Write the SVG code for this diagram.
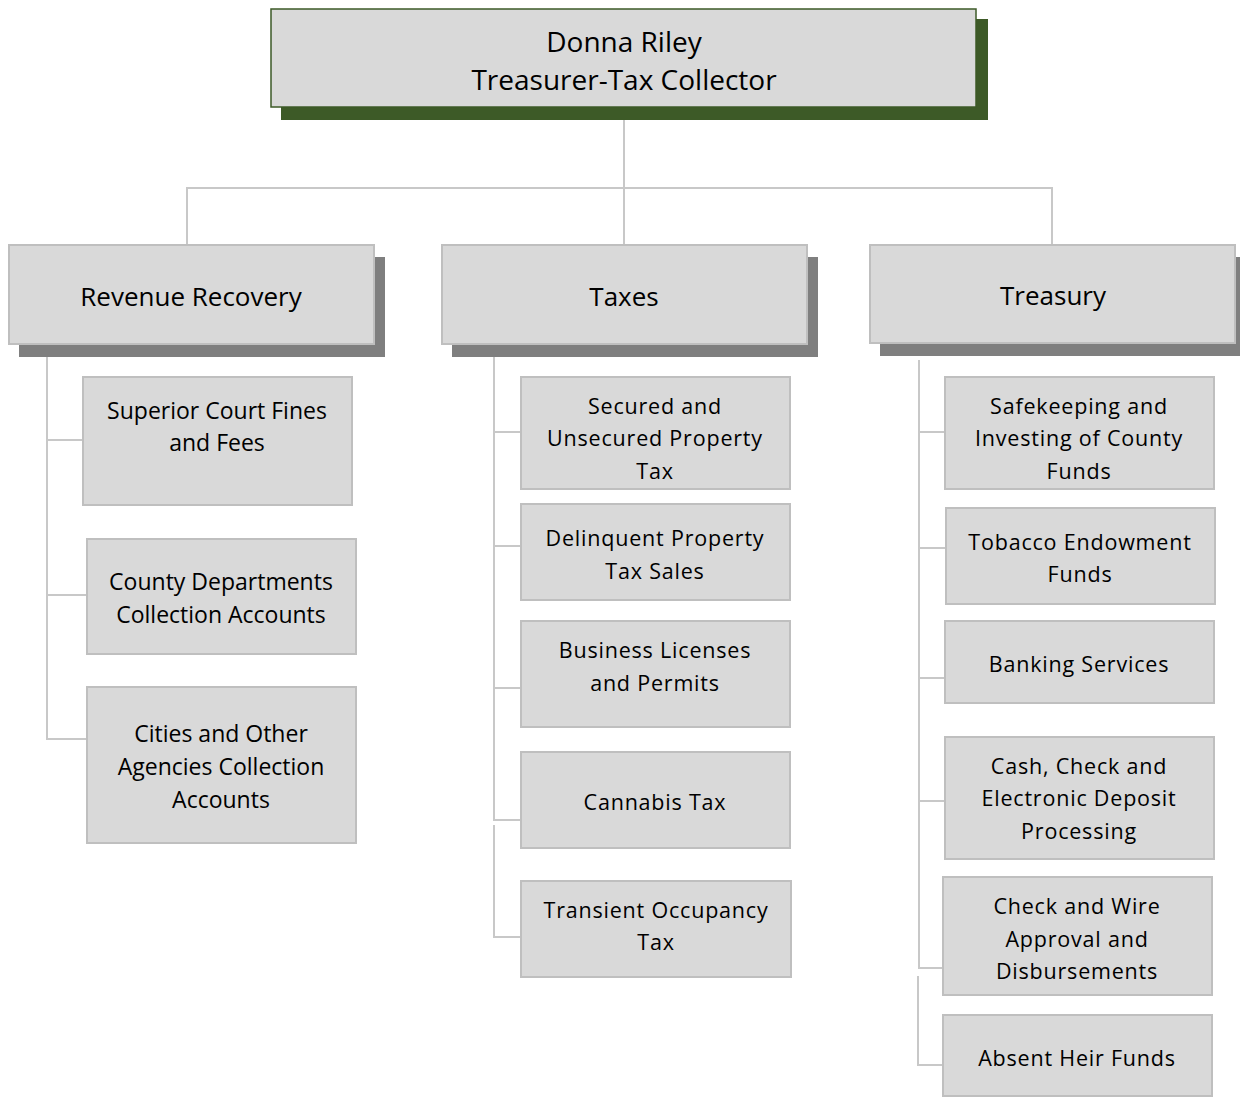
<svg xmlns="http://www.w3.org/2000/svg" width="1240" height="1097" viewBox="0 0 1240 1097">
<style>
.box{fill:#d9d9d9;stroke:#bfbfbf;stroke-width:2}
.top{fill:#d9d9d9;stroke:#3d5a27;stroke-width:1.5}
.sh{fill:#7f7f7f}
.gsh{fill:#3d5a27}
.ln{fill:none;stroke:#c8c8c8;stroke-width:2}
text{font-family:"Open Sans","Liberation Sans",sans-serif;fill:#000;text-anchor:middle;dominant-baseline:central}
.t1{font-size:28px}
.t2{font-size:26px}
.t3{font-size:23px}
.t4{font-size:21.5px;letter-spacing:0.8px}
</style>
<rect width="1240" height="1097" fill="#fff"/>
<g id="connectors">
<path class="ln" d="M624 107V245M187 245V188H1052V245"/>
<path class="ln" d="M47 357V739H87M47 440H83M47 595H87"/>
<path class="ln" d="M494 357V820H521M494 432H521M494 546H521M494 688H521M494 825V937H521"/>
<path class="ln" d="M919 360V968H942M919 432H945M919 548H946M919 678H945M919 801H945M918 976V1065H943"/>
</g>
<g id="n-top">
<rect class="gsh" x="281" y="19" width="707" height="101"/>
<rect class="top" x="271" y="9" width="705" height="98"/>
<text class="t1" x="624" y="41">Donna Riley</text>
<text class="t1" x="624" y="79">Treasurer-Tax Collector</text>
</g>
<g id="n-revenue">
<rect class="sh" x="19" y="257" width="366" height="100"/>
<rect class="box" x="9" y="245" width="365" height="99"/>
<text class="t2" x="191" y="296">Revenue Recovery</text>
</g>
<g id="n-taxes">
<rect class="sh" x="452" y="257" width="366" height="100"/>
<rect class="box" x="442" y="245" width="365" height="99"/>
<text class="t2" x="624" y="296">Taxes</text>
</g>
<g id="n-treasury">
<rect class="sh" x="880" y="257" width="362" height="99"/>
<rect class="box" x="870" y="245" width="365" height="98"/>
<text class="t2" x="1053" y="295">Treasury</text>
</g>
<g id="n-superior">
<rect class="box" x="83" y="377" width="269" height="128"/>
<text class="t3" x="217" y="410">Superior Court Fines</text>
<text class="t3" x="217" y="442">and Fees</text>
</g>
<g id="n-county">
<rect class="box" x="87" y="539" width="269" height="115"/>
<text class="t3" x="221" y="581">County Departments</text>
<text class="t3" x="221" y="614">Collection Accounts</text>
</g>
<g id="n-cities">
<rect class="box" x="87" y="687" width="269" height="156"/>
<text class="t3" x="221" y="733">Cities and Other</text>
<text class="t3" x="221" y="766">Agencies Collection</text>
<text class="t3" x="221" y="799">Accounts</text>
</g>
<g id="n-secured">
<rect class="box" x="521" y="377" width="269" height="112"/>
<text class="t4" x="655" y="405">Secured and</text>
<text class="t4" x="655" y="437">Unsecured Property</text>
<text class="t4" x="655" y="470">Tax</text>
</g>
<g id="n-delinquent">
<rect class="box" x="521" y="504" width="269" height="96"/>
<text class="t4" x="655" y="537">Delinquent Property</text>
<text class="t4" x="655" y="570">Tax Sales</text>
</g>
<g id="n-business">
<rect class="box" x="521" y="621" width="269" height="106"/>
<text class="t4" x="655" y="649">Business Licenses</text>
<text class="t4" x="655" y="682">and Permits</text>
</g>
<g id="n-cannabis">
<rect class="box" x="521" y="752" width="269" height="96"/>
<text class="t4" x="655" y="801">Cannabis Tax</text>
</g>
<g id="n-transient">
<rect class="box" x="521" y="881" width="270" height="96"/>
<text class="t4" x="656" y="909">Transient Occupancy</text>
<text class="t4" x="656" y="941">Tax</text>
</g>
<g id="n-safekeeping">
<rect class="box" x="945" y="377" width="269" height="112"/>
<text class="t4" x="1079" y="405">Safekeeping and</text>
<text class="t4" x="1079" y="437">Investing of County</text>
<text class="t4" x="1079" y="470">Funds</text>
</g>
<g id="n-tobacco">
<rect class="box" x="946" y="508" width="269" height="96"/>
<text class="t4" x="1080" y="541">Tobacco Endowment</text>
<text class="t4" x="1080" y="573">Funds</text>
</g>
<g id="n-banking">
<rect class="box" x="945" y="621" width="269" height="82"/>
<text class="t4" x="1079" y="663">Banking Services</text>
</g>
<g id="n-cash">
<rect class="box" x="945" y="737" width="269" height="122"/>
<text class="t4" x="1079" y="765">Cash, Check and</text>
<text class="t4" x="1079" y="797">Electronic Deposit</text>
<text class="t4" x="1079" y="830">Processing</text>
</g>
<g id="n-checkwire">
<rect class="box" x="943" y="877" width="269" height="118"/>
<text class="t4" x="1077" y="905">Check and Wire</text>
<text class="t4" x="1077" y="938">Approval and</text>
<text class="t4" x="1077" y="970">Disbursements</text>
</g>
<g id="n-absent">
<rect class="box" x="943" y="1015" width="269" height="81"/>
<text class="t4" x="1077" y="1057">Absent Heir Funds</text>
</g>
</svg>
